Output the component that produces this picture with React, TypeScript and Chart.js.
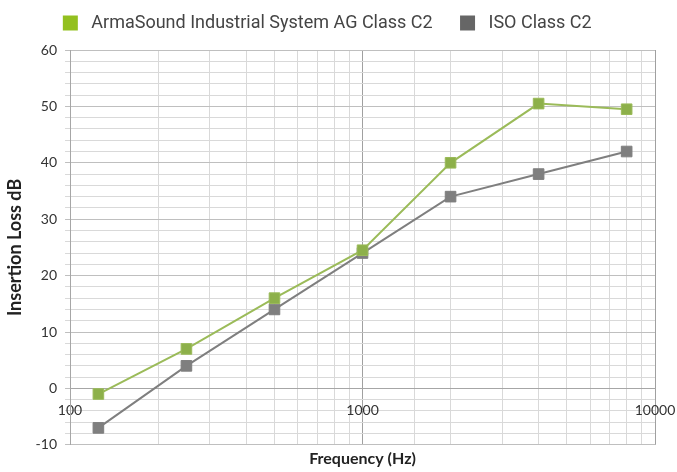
import { useEffect, useRef } from "react";
import { Chart, registerables } from "chart.js";
Chart.register(...registerables);

const frequencies = [125, 250, 500, 1000, 2000, 4000, 8000];
const armaValues = [-1, 7, 16, 24.5, 40, 50.5, 49.5];
const isoValues = [-7, 4, 14, 24, 34, 38, 42];
const seriesNames = ["ArmaSound Industrial System AG Class C2", "ISO Class C2"];
const xTickLabels = [100, 1000, 10000];
const yTickLabels = [-10, 0, 10, 20, 30, 40, 50, 60];
const xTitle = "Frequency (Hz)";
const yTitle = "Insertion Loss dB";

const legendColors = ["#93c01f", "#666666"];
const lineColors = ["#9bbb59", "#7f7f7f"];
const markerColors = ["#8db04a", "#7f7f7f"];

const legendGap = {
  id: "legendGap",
  afterInit(chart: any) {
    const legend = chart.legend;
    if (!legend) return;
    const orig = legend.fit;
    legend.fit = function () {
      orig.call(this);
      this.height += 8;
    };
  },
};

export default function App() {
  const ref = useRef<HTMLCanvasElement | null>(null);
  useEffect(() => {
    document.body.style.margin = "0";
    if (!ref.current) return;
    const isMajorX = (v: number) => xTickLabels.includes(Math.round(v));
    const chart = new Chart(ref.current, {
      type: "line",
      plugins: [legendGap],
      data: {
        datasets: [
          {
            label: seriesNames[0],
            data: frequencies.map((f, i) => ({ x: f, y: armaValues[i] })),
            borderColor: lineColors[0],
            backgroundColor: legendColors[0],
            pointBackgroundColor: markerColors[0],
            pointBorderColor: lineColors[0],
            pointBorderWidth: 1,
            pointStyle: "rect",
            pointRadius: 7.5,
            borderWidth: 2,
            tension: 0,
          },
          {
            label: seriesNames[1],
            data: frequencies.map((f, i) => ({ x: f, y: isoValues[i] })),
            borderColor: lineColors[1],
            backgroundColor: legendColors[1],
            pointBackgroundColor: markerColors[1],
            pointBorderColor: markerColors[1],
            pointBorderWidth: 1,
            pointStyle: "rect",
            pointRadius: 7.5,
            borderWidth: 2,
            tension: 0,
          },
        ],
      },
      options: {
        animation: false,
        responsive: false,
        layout: { padding: { left: 4, right: 22, top: 0, bottom: 4 } },
        plugins: {
          legend: {
            position: "top",
            labels: {
              font: { family: "Roboto", size: 18 },
              color: "#444444",
              boxWidth: 15,
              boxHeight: 15,
              padding: 14,
              generateLabels: (c: any) =>
                c.data.datasets.map((ds: any, i: number) => ({
                  text: " " + ds.label + (i === 0 ? "   " : " "),
                  fillStyle: legendColors[i],
                  strokeStyle: legendColors[i],
                  lineWidth: 0,
                  hidden: false,
                  datasetIndex: i,
                  fontColor: "#444444",
                })),
            },
          },
          tooltip: { enabled: false },
        },
        scales: {
          x: {
            type: "logarithmic",
            position: { y: 0 } as any,
            min: 100,
            max: 10000,
            afterFit: (scale: any) => {
              scale.paddingLeft = 0;
              scale.paddingRight = 0;
            },
            ticks: {
              autoSkip: false,
              maxRotation: 0,
              font: { family: "Lato", size: 14 },
              color: "#333333",
              padding: 9,
              callback: (v: any) => (isMajorX(Number(v)) ? String(Math.round(Number(v))) : ""),
            },
            grid: {
              color: (ctx: any) => (ctx.tick && isMajorX(ctx.tick.value) ? "#a0a0a0" : "#d9d9d9"),
              lineWidth: 1,
              drawTicks: true,
              tickLength: 5,
            },
            border: { display: true, color: "#a6a6a6" },
          },
          x2: {
            type: "logarithmic",
            position: "bottom",
            min: 100,
            max: 10000,
            afterFit: (scale: any) => {
              scale.paddingLeft = 0;
              scale.paddingRight = 0;
            },
            ticks: { display: false },
            grid: { display: false, drawTicks: false },
            border: { display: false },
            title: {
              display: true,
              text: xTitle,
              font: { family: "Lato", size: 16, weight: "bold" },
              color: "#222222",
              padding: { top: 4, bottom: 0 },
            },
          },
          y: {
            type: "linear",
            min: -10,
            max: 60,
            ticks: {
              stepSize: 2,
              autoSkip: false,
              font: { family: "Lato", size: 14 },
              color: "#333333",
              padding: 8,
              callback: (v: any) => {
                const n = Number(v);
                return yTickLabels.includes(n) ? String(n) : "";
              },
            },
            grid: {
              color: (ctx: any) =>
                ctx.tick && yTickLabels.includes(ctx.tick.value) ? "#bfbfbf" : "#d9d9d9",
              lineWidth: 1,
              tickLength: 5,
            },
            border: { display: true, color: "#a6a6a6" },
            title: {
              display: true,
              text: yTitle,
              font: { family: "Lato", size: 18, weight: "bold" },
              color: "#222222",
              padding: { top: 0, bottom: 2 },
            },
          },
        },
      },
    });
    return () => chart.destroy();
  }, []);
  return (
    <div style={{ width: 677, height: 472 }}>
      <canvas ref={ref} width={677} height={472} style={{ width: 677, height: 472 }} />
    </div>
  );
}
